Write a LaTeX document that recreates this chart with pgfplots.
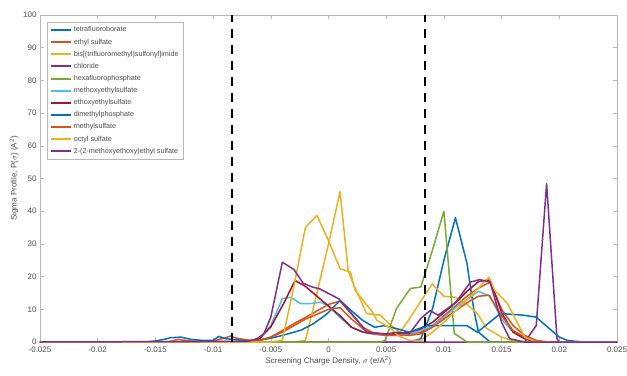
\documentclass[border=0pt]{standalone}
\usepackage{pgfplots}
\pgfplotsset{compat=1.18}
\usepackage{fontspec}
\setmainfont{Liberation Sans}
\definecolor{mb}{rgb}{0,0.447,0.741}
\definecolor{mo}{rgb}{0.85,0.325,0.098}
\definecolor{my}{rgb}{0.929,0.694,0.125}
\definecolor{mp}{rgb}{0.494,0.184,0.556}
\definecolor{mg}{rgb}{0.466,0.674,0.188}
\definecolor{ml}{rgb}{0.301,0.745,0.933}
\definecolor{mr}{rgb}{0.635,0.078,0.184}
\definecolor{axc}{gray}{0.72}
\definecolor{txc}{gray}{0.3}
\begin{document}
\begin{tikzpicture}
\begin{axis}[
  scale only axis, width=577pt, height=327pt,
  xmin=-0.025, xmax=0.025, ymin=0, ymax=100,
  xtick={-0.025,-0.02,-0.015,-0.01,-0.005,0,0.005,0.01,0.015,0.02,0.025},
  xticklabels={-0.025,-0.02,-0.015,-0.01,-0.005,0,0.005,0.01,0.015,0.02,0.025},
  scaled x ticks=false,
  ytick={0,10,...,100},
  /pgf/number format/assume math mode=true,
  tick align=inside, tick pos=both,
  major tick length=4pt,
  axis line style={axc, line width=0.6pt},
  every tick/.style={axc, line width=0.6pt},
  tick label style={font=\fontsize{8}{9}\selectfont, text=txc},
  xticklabel style={yshift=-1.5pt},
  xlabel={Screening Charge Density, $\sigma$ (e/A\textsuperscript{2})},
  ylabel={Sigma Profile, P($\sigma$) (A\textsuperscript{2})},
  label style={font=\fontsize{8}{9}\selectfont, text=txc},
  xlabel style={yshift=3pt},
  ylabel style={yshift=-2pt},
  every axis plot/.append style={line width=1.5pt, line join=round},
  legend cell align=left,
  legend style={at={(0,1)}, anchor=north west, xshift=7pt, yshift=-7pt,
    font=\fontsize{7.2}{8}\selectfont, draw=axc, line width=0.5pt,
    row sep=1.4pt, inner sep=2.5pt, text=txc},
  legend image code/.code={\draw[#1, line width=2pt] (0pt,0pt) -- (20pt,0pt);},
]
% tetrafluoroborate
\addplot[mb] coordinates {(-0.025,0) (0.007,0) (0.008,1) (0.009,10) (0.010,25) (0.011,38) (0.012,24) (0.0126,9.7) (0.013,3) (0.014,0) (0.025,0)};
% ethyl sulfate
\addplot[mo] coordinates {(-0.025,0) (-0.014,0) (-0.013,0.8) (-0.012,0.3) (-0.010,0.3) (-0.009,1.2) (-0.0085,1.8) (-0.008,1.2) (-0.007,0.6) (-0.006,0.5) (-0.005,1.5) (-0.004,3.5) (-0.003,5.6) (-0.002,7.5) (-0.001,9.5) (0,11.5) (0.001,12.5) (0.002,8.5) (0.003,4.5) (0.004,2.5) (0.005,2.3) (0.006,2.5) (0.007,2.5) (0.008,3) (0.009,5) (0.010,8) (0.011,11) (0.012,14) (0.013,16.5) (0.014,18.3) (0.015,10) (0.016,5) (0.017,2) (0.018,0.5) (0.019,0) (0.025,0)};
% TFSI
\addplot[my] coordinates {(-0.025,0) (-0.003,0) (-0.002,0.5) (-0.001,15) (0,30) (0.001,46) (0.0017,22) (0.0022,17.3) (0.0033,8.7) (0.0045,8.2) (0.0054,5.1) (0.0062,3) (0.007,7) (0.008,12.5) (0.009,17.8) (0.0095,15.8) (0.010,14) (0.011,13.7) (0.012,11.5) (0.0129,8.7) (0.0137,4.2) (0.015,1.5) (0.016,0.3) (0.017,0) (0.025,0)};
% chloride
\addplot[mp] coordinates {(-0.025,0) (0.017,0) (0.018,5) (0.0189,48.4) (0.0198,1) (0.020,0) (0.025,0)};
% hexafluorophosphate
\addplot[mg] coordinates {(-0.025,0) (0.0045,0) (0.0049,0.5) (0.0059,10.3) (0.0071,16.4) (0.008,16.8) (0.009,28) (0.010,40) (0.0109,2.6) (0.012,0) (0.025,0)};
% methoxyethylsulfate
\addplot[ml] coordinates {(-0.025,0) (-0.007,0) (-0.006,1) (-0.005,5) (-0.004,13.3) (-0.0033,13.7) (-0.0024,11.7) (-0.0016,11.7) (-0.0007,12.2) (0,11) (0.001,7.5) (0.002,4.5) (0.003,3) (0.004,2.3) (0.005,2) (0.006,2) (0.007,2.5) (0.008,3.5) (0.009,5) (0.010,7.5) (0.011,10.5) (0.012,13) (0.013,15.5) (0.014,14) (0.015,7) (0.016,3) (0.017,1) (0.018,0) (0.025,0)};
% ethoxyethylsulfate
\addplot[mr] coordinates {(-0.025,0) (-0.007,0) (-0.006,1) (-0.005,4.6) (-0.0039,11.7) (-0.0029,18.8) (-0.002,17) (-0.001,14) (0,11) (0.001,8) (0.002,4.5) (0.003,3) (0.004,2.5) (0.005,2.5) (0.006,2.5) (0.007,3) (0.008,4) (0.009,6) (0.010,9) (0.011,12) (0.012,15.5) (0.013,18.5) (0.014,19) (0.015,9) (0.016,3) (0.017,1) (0.018,0) (0.025,0)};
% dimethylphosphate
\addplot[mb] coordinates {(-0.025,0) (-0.016,0) (-0.015,0.3) (-0.014,1) (-0.0137,1.3) (-0.0128,1.5) (-0.0119,0.8) (-0.011,0.5) (-0.010,0.5) (-0.0095,1.7) (-0.0089,1) (-0.008,0.7) (-0.007,0.3) (-0.006,0.5) (-0.005,1.2) (-0.004,2) (-0.003,3) (-0.0024,3.6) (-0.0013,5.6) (-0.0001,8.7) (0.001,12.7) (0.002,9.5) (0.003,6.5) (0.004,4.5) (0.0048,5) (0.006,4) (0.007,3) (0.0085,5) (0.012,5) (0.0129,3) (0.0149,8.7) (0.0169,8.2) (0.018,7.6) (0.019,4.5) (0.020,1.5) (0.0207,0.5) (0.022,0) (0.025,0)};
% methylsulfate
\addplot[mo] coordinates {(-0.025,0) (-0.007,0) (-0.006,0.5) (-0.005,1.5) (-0.004,3) (-0.003,5) (-0.002,7) (-0.001,8.5) (0,10) (0.001,10.5) (0.002,7) (0.003,4) (0.004,2.5) (0.005,2) (0.006,2) (0.007,2) (0.008,2.5) (0.009,4.5) (0.010,7) (0.011,9.5) (0.012,12) (0.013,14) (0.0139,14.3) (0.015,8) (0.016,3.5) (0.017,1.5) (0.018,0.3) (0.019,0) (0.025,0)};
% octyl sulfate
\addplot[my] coordinates {(-0.025,0) (-0.005,0) (-0.004,0.5) (-0.003,17) (-0.002,35) (-0.001,38.7) (0,31) (0.001,22.4) (0.0019,21.4) (0.0023,15.8) (0.0038,9.2) (0.0042,6.6) (0.0054,4.2) (0.006,2) (0.007,0.5) (0.008,0.5) (0.009,3) (0.010,6) (0.011,9.5) (0.012,13) (0.013,16.5) (0.0139,19.8) (0.0144,15.8) (0.0155,11.8) (0.0165,5) (0.017,1.5) (0.018,0) (0.025,0)};
% 2-(2-methoxyethoxy)ethyl sulfate
\addplot[mp] coordinates {(-0.025,0) (-0.007,0.2) (-0.0062,1) (-0.0056,2.5) (-0.005,7.6) (-0.004,24.4) (-0.003,22.2) (-0.0022,18) (-0.0014,16.8) (-0.0008,16.3) (0.0009,13.2) (0.0025,6.6) (0.0033,3) (0.004,2.8) (0.005,2.5) (0.006,3) (0.007,2.5) (0.008,7.2) (0.0088,9.6) (0.0095,8.2) (0.011,12) (0.0123,18.3) (0.0131,19.1) (0.014,18.3) (0.015,6) (0.0157,1) (0.017,0) (0.025,0)};
% dashed markers
\addplot[black, line width=2pt, dash pattern=on 9pt off 7pt, forget plot] coordinates {(-0.0084,0) (-0.0084,100)};
\addplot[black, line width=2pt, dash pattern=on 9pt off 7pt, forget plot] coordinates {(0.0084,0) (0.0084,100)};
\legend{tetrafluoroborate, ethyl sulfate, bis[(trifluoromethyl)sulfonyl]imide, chloride, hexafluorophosphate, methoxyethylsulfate, ethoxyethylsulfate, dimethylphosphate, methylsulfate, octyl sulfate, 2-(2-methoxyethoxy)ethyl sulfate}
\end{axis}
\pgfresetboundingbox
\path[use as bounding box] ([xshift=-40pt,yshift=-33pt]current axis.south west) rectangle ([xshift=10pt,yshift=15pt]current axis.north east);
\end{tikzpicture}
\end{document}
